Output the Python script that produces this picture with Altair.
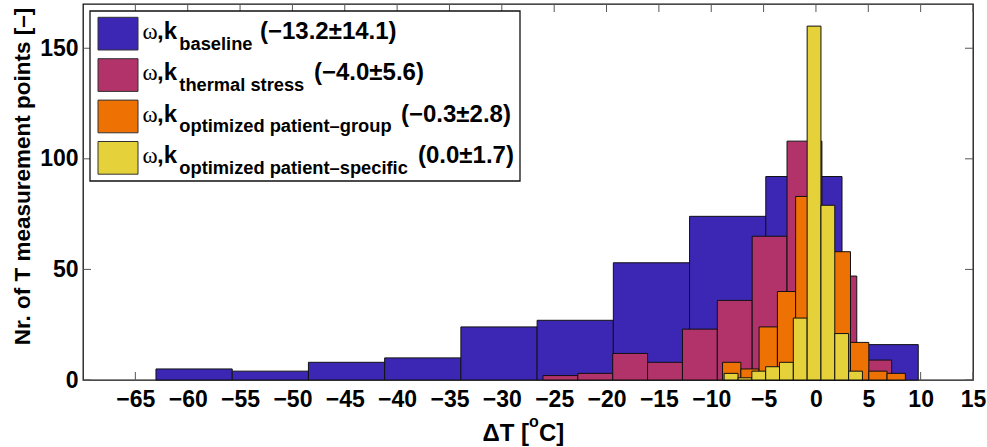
import altair as alt
import pandas as pd

# ---- data ----
blue_edges = [-63.03, -55.75, -48.47, -41.19, -33.91, -26.63, -19.35, -12.07, -4.79, 2.49, 9.77]
blue_counts = [5, 4, 8, 10, 24, 27, 53, 74, 92, 16]
pink_edges = [-26.07, -22.74, -19.41, -16.08, -12.75, -9.42, -6.09, -2.76, 0.57, 3.90, 7.23]
pink_counts = [2, 3, 12, 8, 23, 36, 65, 108, 47, 9]
orange_edges = [-8.92, -7.17, -5.43, -3.68, -1.94, -0.19, 1.56, 3.30, 5.05, 6.79, 8.54]
orange_counts = [8, 5, 24, 40, 83, 71, 58, 17, 4, 3]
yellow_edges = [-8.77, -7.44, -6.12, -4.80, -3.48, -2.16, -0.84, 0.48, 1.80, 3.12, 4.44]
yellow_counts = [3, 1, 4, 6, 8, 28, 160, 79, 21, 4]

series_colors = ["#3C27B4", "#B2336A", "#EE7203", "#E5D23B"]
legend_subs = ["baseline", "thermal stress", "optimized patient\u2013group", "optimized patient\u2013specific"]
legend_stats = ["(\u221213.2\u00b114.1)", "(\u22124.0\u00b15.6)", "(\u22120.3\u00b12.8)", "(0.0\u00b11.7)"]

x_ticks = [-65, -60, -55, -50, -45, -40, -35, -30, -25, -20, -15, -10, -5, 0, 5, 10, 15]
y_ticks = [0, 50, 100, 150]
x_domain = [-70, 15]
y_domain = [0, 170]

W, H = 890, 376
FONT = "Liberation Sans"

xs = alt.Scale(domain=x_domain, nice=False, zero=False)
ys = alt.Scale(domain=y_domain, nice=False)


def hist_layer(edges, counts, color):
    df = pd.DataFrame({"x0": edges[:-1], "x1": edges[1:], "n": counts})
    return alt.Chart(df).mark_rect(color=color, stroke="#111111", strokeWidth=1).encode(
        x=alt.X("x0:Q", scale=xs, axis=alt.Axis(
            values=x_ticks, ticks=False, domain=False, grid=False, title=None,
            labelFont=FONT, labelFontSize=23, labelFontWeight="bold", labelColor="black",
            labelPadding=8, labelFlush=False)),
        x2="x1:Q",
        y=alt.Y("n:Q", scale=ys, axis=alt.Axis(
            values=y_ticks, ticks=False, domain=False, grid=False,
            title="Nr. of T measurement points [\u2013]", titleFont=FONT, titleFontSize=22.5,
            titleFontWeight="bold", titleColor="black", titleAngle=270, titleAlign="center",
            titleBaseline="middle", titleX=-61, titleY=172,
            labelFont=FONT, labelFontSize=23, labelFontWeight="bold", labelColor="black",
            labelPadding=5)),
        y2=alt.datum(0),
    )


xt = pd.DataFrame({"t": x_ticks})
yt = pd.DataFrame({"t": y_ticks})
tick_color = "#555555"
ticks = [
    alt.Chart(xt).mark_rule(color=tick_color, strokeWidth=1).encode(
        x=alt.X("t:Q", scale=xs), y=alt.value(H), y2=alt.value(H - 8)),
    alt.Chart(xt).mark_rule(color=tick_color, strokeWidth=1).encode(
        x=alt.X("t:Q", scale=xs), y=alt.value(0), y2=alt.value(8)),
    alt.Chart(yt).mark_rule(color=tick_color, strokeWidth=1).encode(
        y=alt.Y("t:Q", scale=ys), x=alt.value(0), x2=alt.value(8)),
    alt.Chart(yt).mark_rule(color=tick_color, strokeWidth=1).encode(
        y=alt.Y("t:Q", scale=ys), x=alt.value(W), x2=alt.value(W - 8)),
]

bars = [
    hist_layer(blue_edges, blue_counts, series_colors[0]),
    hist_layer(pink_edges, pink_counts, series_colors[1]),
    hist_layer(orange_edges, orange_counts, series_colors[2]),
    hist_layer(yellow_edges, yellow_counts, series_colors[3]),
]

# ---- legend (drawn by hand to allow subscripts) ----
one = pd.DataFrame({"a": [0]})
legend = [
    alt.Chart(one).mark_rect(fill="white", stroke="#111111", strokeWidth=1.3).encode(
        x=alt.value(7), x2=alt.value(437), y=alt.value(7), y2=alt.value(177))
]
stat_x = [177, 231, 318, 335]
for i in range(4):
    top = 13.3 + 41.4 * i
    base = 35 + 41.4 * i
    legend.append(alt.Chart(one).mark_rect(fill=series_colors[i], stroke="#333333", strokeWidth=1).encode(
        x=alt.value(15), x2=alt.value(55), y=alt.value(top), y2=alt.value(top + 32.7)))
    legend.append(alt.Chart(one).mark_text(text="\u03c9", font="Liberation Serif", fontSize=23,
                                           align="left", baseline="alphabetic", color="black").encode(
        x=alt.value(59.5), y=alt.value(base)))
    legend.append(alt.Chart(one).mark_text(text=",k", font=FONT, fontSize=24, fontWeight="bold",
                                           align="left", baseline="alphabetic", color="black").encode(
        x=alt.value(74), y=alt.value(base)))
    legend.append(alt.Chart(one).mark_text(text=legend_subs[i], font=FONT, fontSize=18.3, fontWeight="bold",
                                           align="left", baseline="alphabetic", color="black").encode(
        x=alt.value(96.3), y=alt.value(base + 10.5)))
    legend.append(alt.Chart(one).mark_text(text=legend_stats[i], font=FONT, fontSize=24, fontWeight="bold",
                                           align="left", baseline="alphabetic", color="black").encode(
        x=alt.value(stat_x[i]), y=alt.value(base)))

# ---- x axis title with superscript ----
xtitle = [
    alt.Chart(one).mark_text(text="\u0394T [", font=FONT, fontSize=24, fontWeight="bold",
                             align="right", baseline="alphabetic", color="black").encode(
        x=alt.value(446), y=alt.value(437)),
    alt.Chart(one).mark_text(text="o", font=FONT, fontSize=16, fontWeight="bold",
                             align="left", baseline="alphabetic", color="black").encode(
        x=alt.value(446), y=alt.value(423)),
    alt.Chart(one).mark_text(text="C]", font=FONT, fontSize=24, fontWeight="bold",
                             align="left", baseline="alphabetic", color="black").encode(
        x=alt.value(456), y=alt.value(437)),
]

chart = alt.layer(*ticks, *bars, *legend, *xtitle).properties(
    width=W, height=H,
    autosize=alt.AutoSizeParams(type="none"),
    padding={"left": 83, "top": 4, "right": 14, "bottom": 67},
    background="white",
).configure_view(stroke="#111111", strokeWidth=1.3)

chart.save("out.html", embed_options={"renderer": "svg", "actions": False})
